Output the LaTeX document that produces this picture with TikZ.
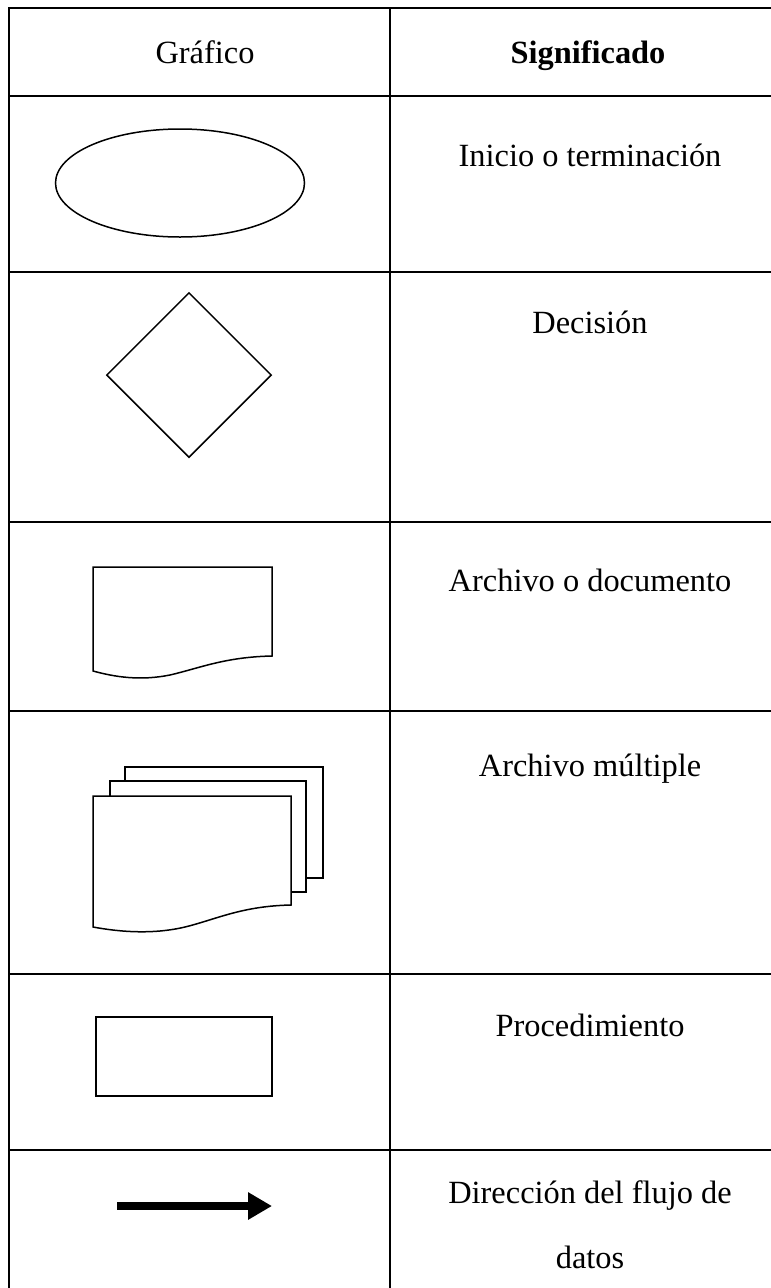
\documentclass[tikz,border=0pt]{standalone}
\usepackage{fontspec}
\setmainfont{Liberation Serif}
\usetikzlibrary{shapes.geometric,arrows.meta}
\begin{document}
\begin{tikzpicture}[x=1pt,y=-1pt,
  grid/.style={line width=2pt},
  shapeline/.style={draw,line width=1.5pt},
  label/.style={font=\fontsize{32.4}{65}\selectfont,inner sep=0pt,anchor=base},
  headlabel/.style={label}]
\useasboundingbox (0,0) rectangle (771,1288);
\fill[white] (0,0) rectangle (771,1288);

% table rules
\draw[grid] (9,1288) -- (9,8) -- (775,8);
\draw[grid] (390,8) -- (390,1288);
\foreach \yy in {96,272,522,711,974,1150}
  \draw[grid] (9,\yy) -- (775,\yy);

% header
\node[headlabel] (hgraf) at (205,63) {Gráfico};
\node[headlabel,font=\fontsize{32.4}{65}\selectfont\bfseries] (hsig) at (588,63) {Significado};

% meanings
\node[label] (tinicio) at (590,166) {Inicio o terminación};
\node[label] (tdec) at (590,333) {Decisión};
\node[label] (tdoc) at (590,591) {Archivo o documento};
\node[label] (tmult) at (590,776) {Archivo múltiple};
\node[label] (tproc) at (590,1036) {Procedimiento};
\node[label,align=center,anchor=north] (tflujo) at (590,1180) {Dirección del flujo de\\datos};

% terminal
\node[shapeline,ellipse,minimum width=249pt,minimum height=108pt,inner sep=0pt] (inicio) at (180,183) {};

% decision
\node[shapeline,diamond,minimum width=165pt,minimum height=165pt,inner sep=0pt] (decision) at (189,375) {};

% single document
\draw[line width=1.5pt,line join=miter] (93,671) -- (93,567) -- (272,567) -- (272,656)
  .. controls (225,657) and (200,668) .. (170,675)
  .. controls (140,681) and (115,677) .. cycle;

% stacked documents
\draw[line width=1.5pt,fill=white] (125,781) -- (125,767) -- (323,767) -- (323,878) -- (306,878);
\draw[line width=1.5pt,fill=white] (110,796) -- (110,781) -- (306,781) -- (306,892) -- (291,892);
\draw[line width=1.5pt,line join=miter] (93,927) -- (93,796) -- (291,796) -- (291,905)
  .. controls (244,906) and (219,918) .. (189,926)
  .. controls (155,935) and (120,932) .. cycle;

% process
\node[shapeline,rectangle,minimum width=176pt,minimum height=79pt,inner sep=0pt] (proceso) at (184,1056.5) {};

% flow direction arrow
\coordinate (flujoA) at (117,1206);
\coordinate (flujoB) at (272,1206);
\draw[line width=8pt,-{Triangle[length=24pt,width=26pt]}] (flujoA) -- (flujoB);
\end{tikzpicture}
\end{document}
